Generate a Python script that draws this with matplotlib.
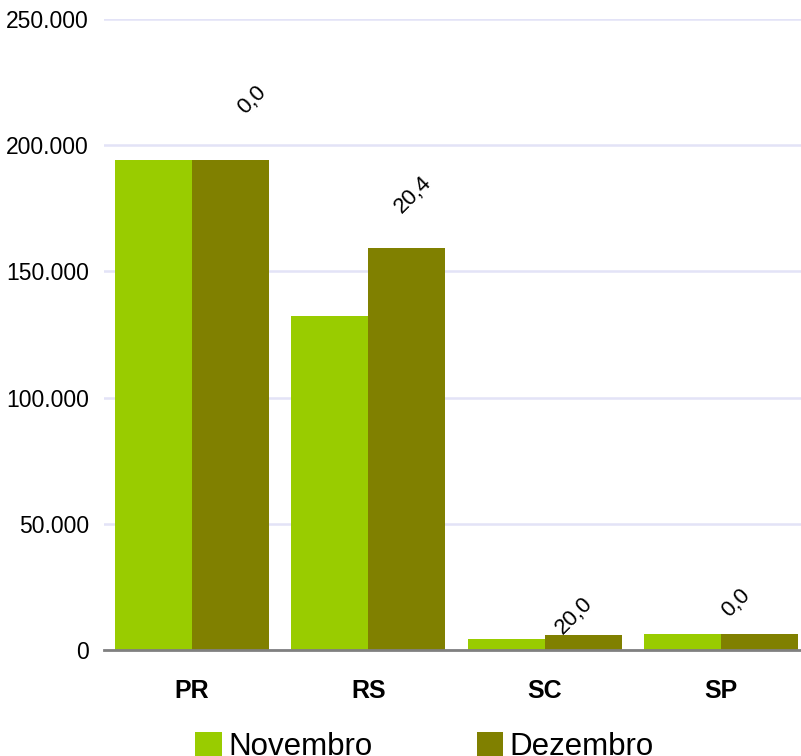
import matplotlib
matplotlib.use("Agg")
import matplotlib.pyplot as plt
import numpy as np

# dados
estados = ["PR", "RS", "SC", "SP"]
novembro = [194100, 132300, 4500, 6150]
dezembro = [194100, 159300, 6100, 6150]
rotulos = ["0,0", "20,4", "20,0", "0,0"]
yticks = [0, 50000, 100000, 150000, 200000, 250000]
ytick_labels = ["0", "50.000", "100.000", "150.000", "200.000", "250.000"]

cor_nov = "#99cc00"
cor_dez = "#808000"

plt.rcParams["font.family"] = ["Liberation Sans", "DejaVu Sans"]

fig = plt.figure(figsize=(8.01, 7.56), dpi=100)
ax = fig.add_axes([104 / 801, 1 - 650 / 756, 705 / 801, 631 / 756])

x = np.arange(len(estados))
w = 0.4375
ax.bar(x - w / 2, novembro, w, color=cor_nov, label="Novembro", zorder=3)
ax.bar(x + w / 2, dezembro, w, color=cor_dez, label="Dezembro", zorder=3)

# deslocamento (px) dos rótulos em relação ao topo da barra de dezembro
desloc = [(21, 60), (6, 53), (-9, 19), (-23, 31)]
for i, txt in enumerate(rotulos):
    ax.annotate(txt, xy=(x[i] + w / 2, dezembro[i]), xytext=desloc[i],
                textcoords="offset pixels", ha="center", va="center",
                rotation=45, fontsize=16, zorder=4)

ax.set_xlim(-0.5, 3.5)
ax.set_ylim(0, 250000)
ax.set_yticks(yticks)
ax.set_yticklabels(ytick_labels, fontsize=16.5)
ax.set_xticks(x)
ax.set_xticklabels(estados, fontsize=18, fontweight="bold")
ax.tick_params(axis="both", length=0)
ax.tick_params(axis="y", pad=11)
ax.tick_params(axis="x", pad=21)

ax.grid(axis="y", color="#e3e3f7", linewidth=1.8, zorder=0)
for s in ["top", "right", "left"]:
    ax.spines[s].set_visible(False)
ax.spines["bottom"].set_color("#808080")
ax.spines["bottom"].set_linewidth(2)
ax.spines["bottom"].set_zorder(5)

# legenda (cortada na borda inferior, como no original)
fig.legend(loc="lower center", bbox_to_anchor=(0.53, -0.045), ncol=2,
           frameon=False, fontsize=22.5, handlelength=0.85, handleheight=0.85,
           handletextpad=0.2, columnspacing=3.35)

fig.savefig("out.png", dpi=100)
